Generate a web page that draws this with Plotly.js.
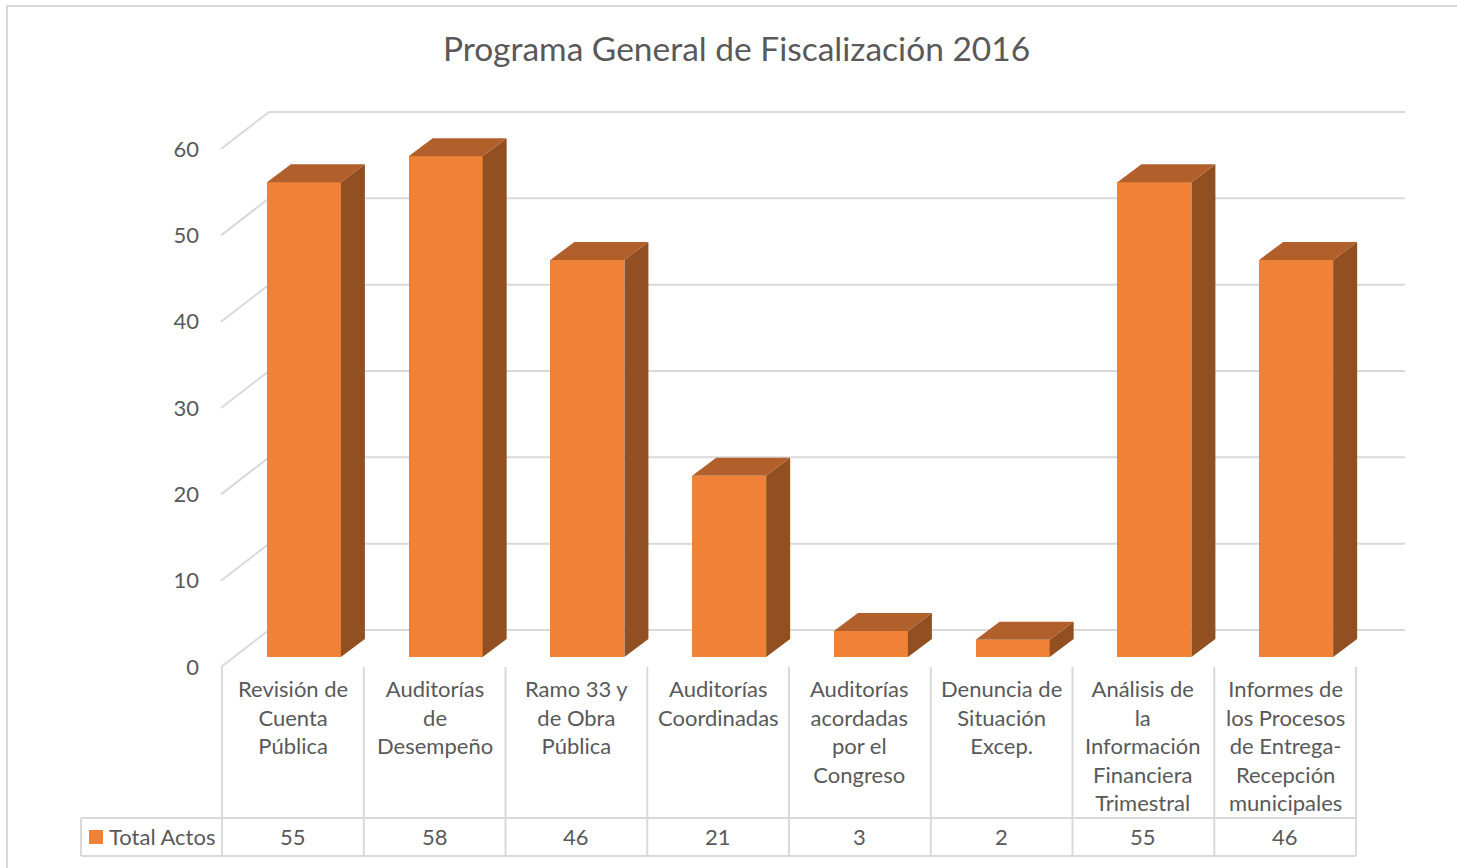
<!DOCTYPE html>
<html><head><meta charset="utf-8">
<script src="https://cdn.plot.ly/plotly-3.0.1.min.js"></script>
<style>body{margin:0;background:#fff}</style>
</head><body><div id="chart" style="width:1457px;height:868px"></div>
<script>
// ---- data ----
const chartTitle = 'Programa General de Fiscalización 2016';
const categories = [
  'Revisión de<br>Cuenta<br>Pública',
  'Auditorías<br>de<br>Desempeño',
  'Ramo 33 y<br>de Obra<br>Pública',
  'Auditorías<br>Coordinadas',
  'Auditorías<br>acordadas<br>por el<br>Congreso',
  'Denuncia de<br>Situación<br>Excep.',
  'Análisis de<br>la<br>Información<br>Financiera<br>Trimestral',
  'Informes de<br>los Procesos<br>de Entrega-<br>Recepción<br>municipales'
];
const seriesName = 'Total Actos';
const values = [55, 58, 46, 21, 3, 2, 55, 46];
const yTicks = [0, 10, 20, 30, 40, 50, 60];

// ---- geometry (pixel helpers -> data units) ----
const W = 1457, H = 868;
const PX_X = 141.75, X0PX = 292.9;   // px per category, px of category 0 center
const PX_Y = 8.633, Y0PX = 667;      // px per unit, px of front floor
const px2x = p => (p - X0PX) / PX_X;
const px2y = q => (Y0PX - q) / PX_Y;
const dxu = p => p / PX_X;
const dyu = p => p / PX_Y;

const FRONT = '#F08238', TOP = '#B1602C', SIDE = '#924F22';
const GRID = '#D9D9D9', TEXT = '#595959', FONT = 'Lato, "Open Sans", sans-serif';

const idx = categories.map((_, i) => i);
const barHalf = dxu(37), barShift = dxu(11), barBase = dyu(10);
const depX = dxu(24), depY = dyu(18);
const wallX = dxu(48), wallY = dyu(37);
const xLeftFront = px2x(221), xRight = px2x(1405);

// side & top polygons computed from values
const sideX = [], sideY = [], topX = [], topY = [];
values.forEach((v, i) => {
  const xl = i + barShift - barHalf, xr = i + barShift + barHalf;
  const t = barBase + v;
  sideX.push(xr, xr + depX, xr + depX, xr, xr, null);
  sideY.push(barBase, barBase + depY, t + depY, t, barBase, null);
  topX.push(xl, xl + depX, xr + depX, xr, xl, null);
  topY.push(t, t + depY, t + depY, t, t, null);
});

const traces = [
  {type: 'bar', x: idx, y: values, base: barBase, width: 2 * barHalf, offset: barShift - barHalf,
   marker: {color: FRONT, line: {width: 0}}, name: seriesName, hoverinfo: 'y', showlegend: false},
  {type: 'scatter', x: sideX, y: sideY, mode: 'lines', fill: 'toself', fillcolor: SIDE,
   line: {width: 0, color: SIDE}, hoverinfo: 'skip', showlegend: false},
  {type: 'scatter', x: topX, y: topY, mode: 'lines', fill: 'toself', fillcolor: TOP,
   line: {width: 0, color: TOP}, hoverinfo: 'skip', showlegend: false}
];

const shapes = [];
// chart border
shapes.push({type: 'rect', xref: 'paper', yref: 'paper', x0: 7 / W, y0: -0.02, x1: 1.02, y1: 1 - 6 / H,
  line: {color: GRID, width: 2}, layer: 'below'});
// 3D gridlines
yTicks.forEach(v => {
  shapes.push({type: 'path', xref: 'x', yref: 'y', layer: 'below',
    path: `M ${xLeftFront},${v} L ${xLeftFront + wallX},${v + wallY} L ${xRight},${v + wallY}`,
    line: {color: GRID, width: 2}});
});
// data table
const tTop = px2y(667), tMid = px2y(818), tBot = px2y(856);
const tLeft = px2x(81), tRight = categories.length - 0.5;
for (let i = 0; i <= categories.length; i++) {
  shapes.push({type: 'line', xref: 'x', yref: 'y', x0: i - 0.5, x1: i - 0.5, y0: tTop, y1: tBot,
    line: {color: GRID, width: 2}});
}
shapes.push({type: 'line', xref: 'x', yref: 'y', x0: tLeft, x1: tLeft, y0: tMid, y1: tBot, line: {color: GRID, width: 2}});
shapes.push({type: 'line', xref: 'x', yref: 'y', x0: tLeft, x1: tRight, y0: tMid, y1: tMid, line: {color: GRID, width: 2}});
shapes.push({type: 'line', xref: 'x', yref: 'y', x0: tLeft, x1: tRight, y0: tBot, y1: tBot, line: {color: GRID, width: 2}});
// legend key
shapes.push({type: 'rect', xref: 'x', yref: 'y', x0: px2x(89), x1: px2x(103), y0: px2y(844), y1: px2y(830),
  fillcolor: FRONT, line: {width: 0}});

const annotations = [];
categories.forEach((c, i) => {
  annotations.push({x: i, y: px2y(673), xref: 'x', yref: 'y', text: c, showarrow: false,
    xanchor: 'center', yanchor: 'top', align: 'center', font: {family: FONT, size: 22, color: TEXT}});
  annotations.push({x: i, y: px2y(836), xref: 'x', yref: 'y', text: String(values[i]), showarrow: false,
    xanchor: 'center', yanchor: 'middle', font: {family: FONT, size: 22, color: TEXT}});
});
annotations.push({x: px2x(107), y: px2y(836), xref: 'x', yref: 'y', text: seriesName, showarrow: false,
  xanchor: 'left', yanchor: 'middle', font: {family: FONT, size: 22, color: TEXT}});

const layout = {
  width: W, height: H,
  margin: {l: 0, r: 0, t: 0, b: 0, pad: 0},
  paper_bgcolor: '#fff', plot_bgcolor: 'rgba(0,0,0,0)',
  title: {text: chartTitle, x: 736.5 / W, xanchor: 'center', y: 1 - 49 / H, yanchor: 'middle',
    xref: 'container', yref: 'container', font: {family: FONT, size: 33.5, color: TEXT}},
  xaxis: {range: [px2x(0), px2x(W)], visible: false, fixedrange: true},
  yaxis: {range: [px2y(H), px2y(0)], anchor: 'free', position: 221 / W, side: 'left',
    tickvals: yTicks, ticktext: yTicks.map(String), showgrid: false, zeroline: false, showline: false,
    ticks: '', ticklabelstandoff: 22, tickfont: {family: FONT, size: 22, color: TEXT}, fixedrange: true},
  showlegend: false,
  shapes: shapes,
  annotations: annotations,
  bargap: 0
};
Plotly.newPlot('chart', traces, layout, {displayModeBar: false, staticPlot: true});
</script>
</body></html>
